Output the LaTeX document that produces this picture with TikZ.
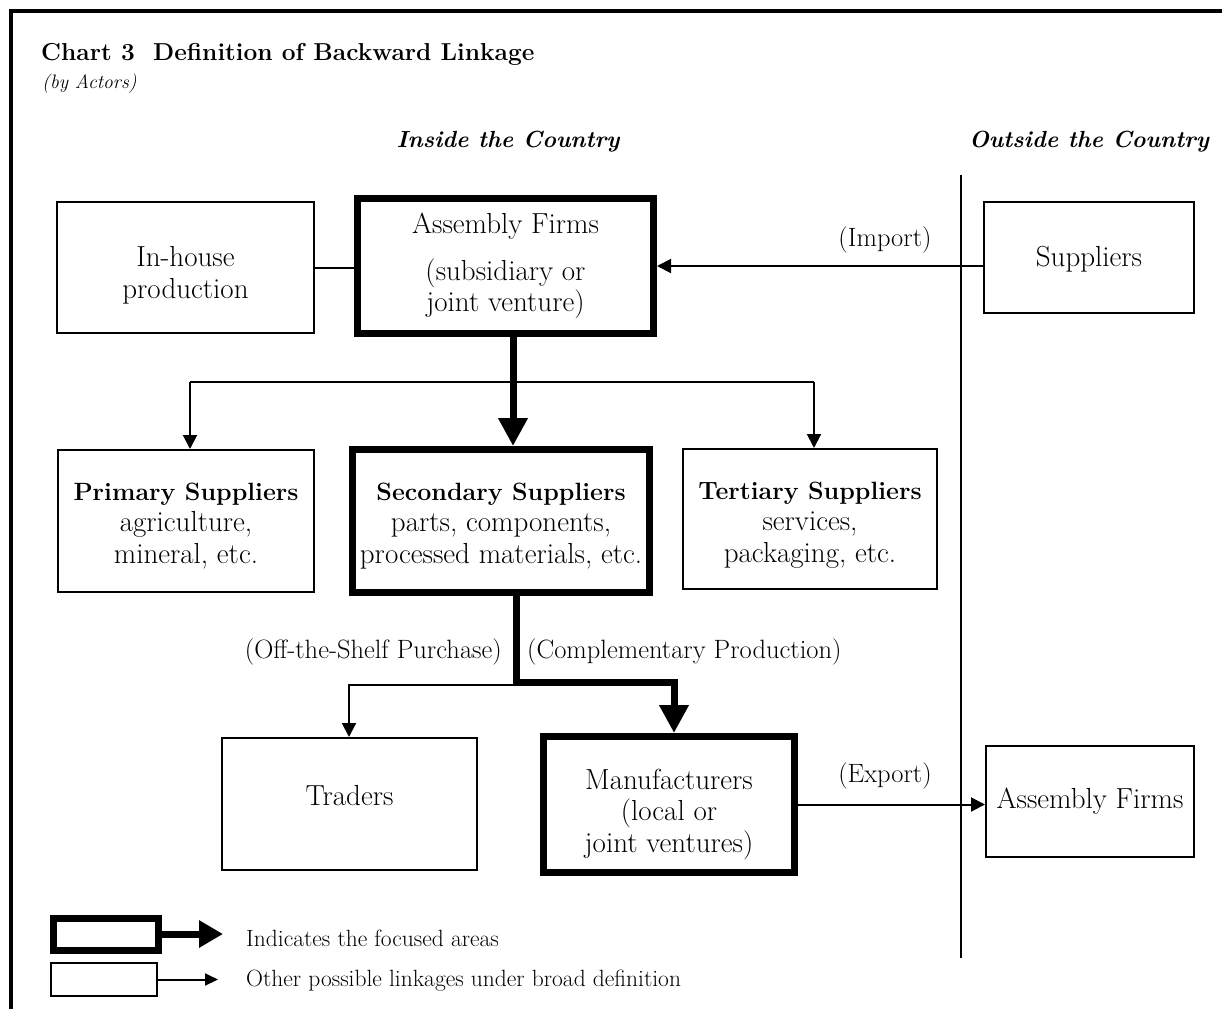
\documentclass[tikz,border=0pt]{standalone}
\usepackage{fontspec}
\usetikzlibrary{arrows.meta}
\newcommand\bodysize{\fontsize{29}{31.5}\selectfont}
\newcommand\boldhead{\fontsize{25}{31.5}\selectfont\bfseries}
\newcommand\labelsize{\fontsize{26.5}{30}\selectfont}
\newcommand\legendsize{\fontsize{23.5}{26}\selectfont}
% invisible strut that lowers a centred text block
\newcommand\textdrop[1]{\rule{0pt}{#1}}
\begin{document}
\begin{tikzpicture}[x=1pt,y=-1pt,
  thinbox/.style={draw, line width=2pt, align=center, inner sep=0pt, font=\bodysize},
  focusbox/.style={thinbox, line width=7pt},
  thinline/.style={line width=2pt},
  thinarrow/.style={line width=2pt, -{Triangle[length=14pt,width=14pt]}},
  thickline/.style={line width=7pt},
  thickarrow/.style={line width=7pt, -{Triangle[length=28pt,width=28pt]}},
  lbl/.style={font=\labelsize, inner sep=0pt},
  head/.style={font=\fontsize{23.3}{26}\selectfont\bfseries\itshape, inner sep=0pt, anchor=base},
  ]
\useasboundingbox (0,0) rectangle (1222,1009);

% outer frame (open on the right and at the bottom)
\draw[line width=3.5pt] (1222,11) -- (11,11) -- (11,1009);

% title
\node[anchor=base west, inner sep=0pt, font=\fontsize{24.5}{28}\selectfont\bfseries] (title) at (41,60)
  {Chart 3\ \ Definition of Backward Linkage};
\node[anchor=base west, inner sep=0pt, font=\fontsize{19.5}{22}\selectfont\itshape] (subtitle) at (42,88)
  {(by Actors)};

% column headings and divider
\node[head] (inside) at (508,147) {Inside the Country};
\node[head] (outside) at (1089,147) {Outside the Country};
\coordinate (divtop) at (961,175);
\coordinate (divbot) at (961,958);
\draw[line width=2.5pt] (divtop) -- (divbot);

% boxes
\node[thinbox, minimum width=257, minimum height=131] (inhouse) at (185.5,267.5) {\textdrop{36pt}In-house\\production};
\node[focusbox, minimum width=296, minimum height=135] (assembly) at (505.5,266)
  {Assembly Firms\\[15pt](subsidiary or\\joint venture)};
\node[thinbox, minimum width=210, minimum height=111] (suppliers) at (1089,257.5) {\textdrop{24pt}Suppliers};

\node[thinbox, minimum width=256, minimum height=142] (primary) at (186,521)
  {{\boldhead\textdrop{27pt}Primary Suppliers}\\agriculture,\\mineral, etc.};
\node[focusbox, minimum width=297, minimum height=143] (secondary) at (501,521)
  {{\boldhead\textdrop{27pt}Secondary Suppliers}\\parts, components,\\processed materials, etc.};
\node[thinbox, minimum width=254, minimum height=140] (tertiary) at (810,519)
  {{\boldhead\textdrop{29pt}Tertiary Suppliers}\\services,\\packaging, etc.};

\node[thinbox, minimum width=255, minimum height=132] (traders) at (349.5,804) {Traders\\[-14pt]};
\node[focusbox, minimum width=251, minimum height=136] (manuf) at (669,804.5)
  {\textdrop{40pt}Manufacturers\\(local or\\joint ventures)};
\node[thinbox, minimum width=208, minimum height=111] (asmout) at (1090,801.5) {Assembly Firms};

% top level links
\draw[thinline] (inhouse.east) -- (inhouse.east -| assembly.west);
\draw[thinarrow] (suppliers.west |- assembly.east) -- (assembly.east);
\node[lbl] (import) at (885,240) {(Import)};

\draw[thickarrow] ([xshift=7.5pt]assembly.south) -- ([xshift=7.5pt]assembly.south |- secondary.north);
\coordinate (bl) at (190,382);
\coordinate (br) at (814,382);
\draw[thinline] (bl) -- (br);
\draw[thinarrow] (bl) -- (bl |- primary.north);
\draw[thinarrow] (br) -- (br |- tertiary.north);

% links below the secondary suppliers
\coordinate (jm) at (674,682);
\coordinate (jt) at (349,685);
\draw[thickarrow] ([xshift=15pt]secondary.south) |- (jm) -- (jm |- manuf.north);
\draw[thinarrow] ([xshift=15pt]secondary.south |- jt) -- (jt) -- (jt |- traders.north);
\node[lbl, anchor=east] (offshelf) at (502,652) {(Off-the-Shelf Purchase)};
\node[lbl, anchor=west] (compl) at (527,652) {(Complementary Production)};

% export
\draw[thinarrow] (manuf.east) -- (manuf.east -| asmout.west);
\node[lbl] (export) at (885,776) {(Export)};

% legend
\node[focusbox, minimum width=105, minimum height=32] (lgthick) at (106,934) {};
\coordinate (lgthickend) at (223,934);
\draw[line width=7pt, -{Triangle[length=24pt,width=26pt]}] (lgthick.east) -- (lgthickend);
\node[anchor=west, inner sep=0pt, font=\legendsize] (lgthicktext) at (246,938) {Indicates the focused areas};

\node[thinbox, minimum width=106, minimum height=33] (lgthin) at (104,979.5) {};
\coordinate (lgthinend) at (218,979.5);
\draw[line width=2pt, -{Triangle[length=13pt,width=12pt]}] (lgthin.east) -- (lgthinend);
\node[anchor=west, inner sep=0pt, font=\legendsize] (lgthintext) at (246,981) {Other possible linkages under broad definition};
\end{tikzpicture}
\end{document}
